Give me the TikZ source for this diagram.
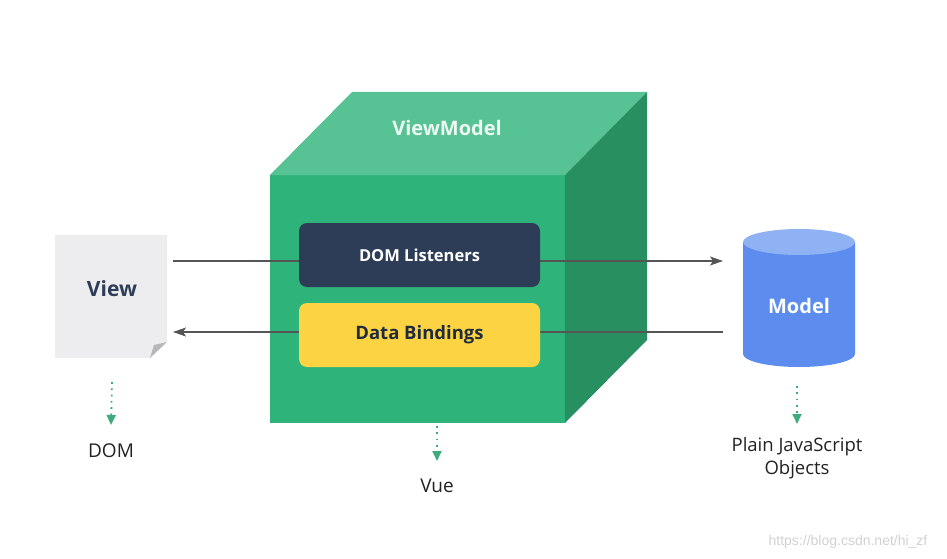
\documentclass[tikz,border=0pt]{standalone}
\usepackage{fontspec}
\setmainfont{Open Sans}
\newfontfamily\wmfont{Liberation Sans}
\usetikzlibrary{arrows.meta}
\definecolor{frontg}{HTML}{2EB37A}
\definecolor{topg}{HTML}{57C294}
\definecolor{sideg}{HTML}{288F60}
\definecolor{navy}{HTML}{2E3D57}
\definecolor{yel}{HTML}{FCD443}
\definecolor{paper}{HTML}{EDEDEF}
\definecolor{foldc}{HTML}{B8B8BA}
\definecolor{bodyb}{HTML}{5B8CEE}
\definecolor{topb}{HTML}{8FB2F5}
\definecolor{arrg}{HTML}{555555}
\definecolor{dotg}{HTML}{3DAB7D}
\definecolor{txt}{HTML}{222222}
\begin{document}
\begin{tikzpicture}[x=1pt,y=-1pt,
  inbox/.style={rounded corners=8pt, minimum width=241pt, minimum height=64pt, inner sep=0pt},
  link/.style={draw=arrg, line width=1.2pt},
  linktip/.style={-{Stealth[length=13pt,width=9pt,inset=3pt]}},
  dotarrow/.style={draw=dotg, line width=1.8pt, dash pattern=on 1.8pt off 4.5pt, -{Triangle[length=10pt,width=9pt]}, dotg},
  caption/.style={font=\fontsize{19}{23}\selectfont, text=txt, align=center, inner sep=0pt}
]
\useasboundingbox (0,0) rectangle (947,559);
% View paper
\fill[paper] (55,235) -- (167,235) -- (167,342) -- (150,358) -- (55,358) -- cycle;
\fill[foldc] (150,358) -- (167,342) -- (154,345) -- cycle;
\node[text=navy, font=\fontsize{21}{25}\selectfont\bfseries, inner sep=0pt] (view) at (112,289) {View};
\coordinate (viewe) at (173,289);
% Cube
\fill[frontg] (270,175) rectangle (565,423);
\fill[topg] (270,175) -- (352,92) -- (647,92) -- (565,175) -- cycle;
\fill[sideg] (565,175) -- (647,92) -- (647,340) -- (565,423) -- cycle;
\node[text=white!92!frontg, font=\fontsize{20}{24}\selectfont\bfseries, inner sep=0pt] (vm) at (447,128) {ViewModel};
% Model cylinder
\fill[bodyb] (743,242) -- (743,354) arc[start angle=180, end angle=0, x radius=56, y radius=13] -- (855,242) -- cycle;
\fill[topb] (799,242) ellipse[x radius=56, y radius=13];
\node[text=white, font=\fontsize{20}{24}\selectfont\bfseries, inner sep=0pt] (model) at (799,306) {Model};
\coordinate (modelw) at (723,306);
% connectors (behind inner boxes)
\path[link, linktip] (viewe |- 0,261) -- (modelw |- 0,261);
\path[link, linktip] (modelw |- 0,332) -- (viewe |- 0,332);
% inner boxes
\node[inbox, fill=navy, text=white, font=\fontsize{16.5}{20}\selectfont\bfseries] (dl) at (419.5,255) {DOM Listeners};
\node[inbox, fill=yel, text=navy!70!black, font=\fontsize{18.5}{22}\selectfont\bfseries] (db) at (419.5,335) {Data Bindings};
% captions
\node[caption] (dom) at (111,451) {DOM};
\node[caption] (vue) at (437,486) {Vue};
\node[caption, font=\fontsize{18.5}{23}\selectfont] (pjo) at (797,458) {Plain JavaScript\\Objects};
\draw[dotarrow] (view.south |- 0,382) -- (dom.north |- 0,425);
\draw[dotarrow] (vue.north |- 0,426) -- (vue.north |- 0,461);
\draw[dotarrow] (pjo.north |- 0,386) -- (pjo.north |- 0,424);
% watermark
\node[text=black!18, font=\wmfont\fontsize{14}{16}\selectfont, inner sep=0pt] (wm) at (848,542) {https://blog.csdn.net/hi\_zf};
\end{tikzpicture}
\end{document}
